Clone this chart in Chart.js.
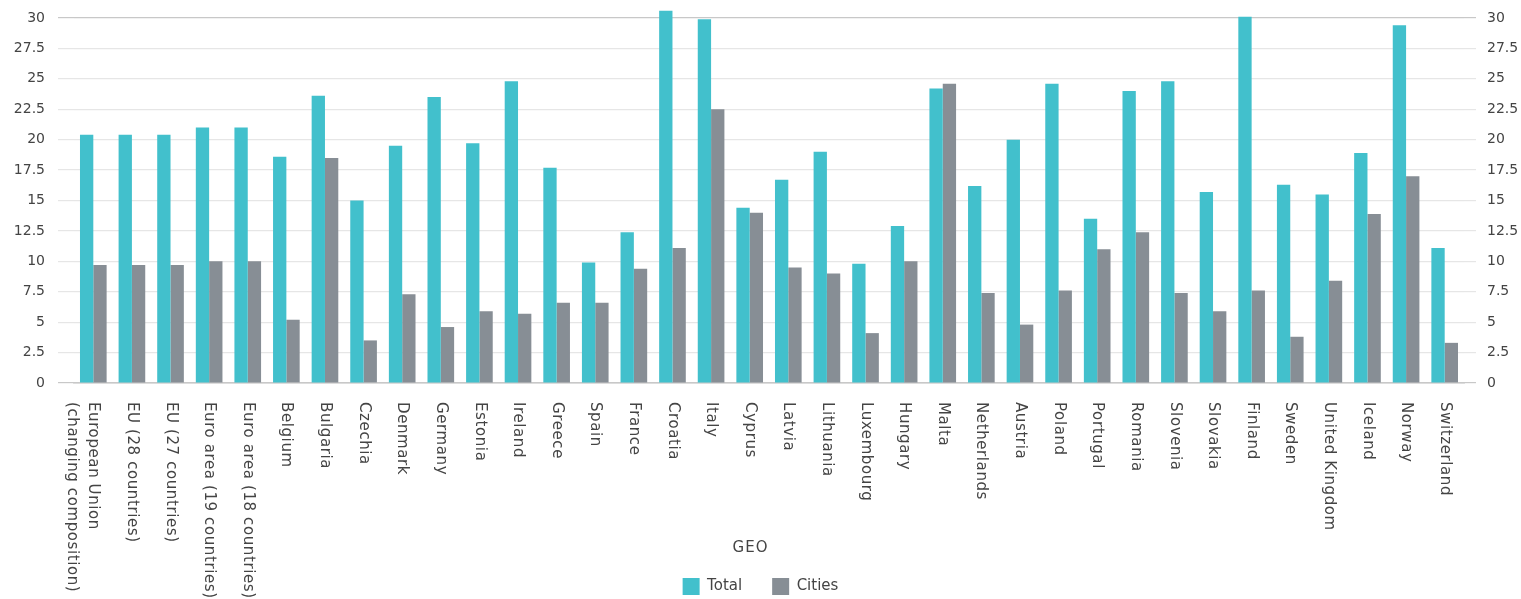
<!DOCTYPE html>
<html>
<head>
<meta charset="utf-8">
<script src="https://cdn.jsdelivr.net/npm/chart.js@4.4.1/dist/chart.umd.min.js"></script>
<style>
    html, body { margin: 0; padding: 0; background: #ffffff; }
    #wrap { width: 1521px; height: 599px; position: relative; }
</style>
</head>
<body>
<div id="wrap"><canvas id="geoChart"></canvas></div>
<script>

    // =========================================
    // DATA
    // =========================================

    var categories = [
        ["European Union", "(changing composition)"],
        "EU (28 countries)",
        "EU (27 countries)",
        "Euro area (19 countries)",
        "Euro area (18 countries)",
        "Belgium",
        "Bulgaria",
        "Czechia",
        "Denmark",
        "Germany",
        "Estonia",
        "Ireland",
        "Greece",
        "Spain",
        "France",
        "Croatia",
        "Italy",
        "Cyprus",
        "Latvia",
        "Lithuania",
        "Luxembourg",
        "Hungary",
        "Malta",
        "Netherlands",
        "Austria",
        "Poland",
        "Portugal",
        "Romania",
        "Slovenia",
        "Slovakia",
        "Finland",
        "Sweden",
        "United Kingdom",
        "Iceland",
        "Norway",
        "Switzerland"
    ];

    var totalValues = [
        20.4, 20.4, 20.4, 21.0, 21.0, 18.6, 23.6, 15.0, 19.5, 23.5,
        19.7, 24.8, 17.7, 9.9, 12.4, 30.6, 29.9, 14.4, 16.7, 19.0,
        9.8, 12.9, 24.2, 16.2, 20.0, 24.6, 13.5, 24.0, 24.8, 15.7,
        30.1, 16.3, 15.5, 18.9, 29.4, 11.1
    ];

    var citiesValues = [
        9.7, 9.7, 9.7, 10.0, 10.0, 5.2, 18.5, 3.5, 7.3, 4.6,
        5.9, 5.7, 6.6, 6.6, 9.4, 11.1, 22.5, 14.0, 9.5, 9.0,
        4.1, 10.0, 24.6, 7.4, 4.8, 7.6, 11.0, 12.4, 7.4, 5.9,
        7.6, 3.8, 8.4, 13.9, 17.0, 3.3
    ];

    var yMin = 0;
    var yMax = 30;
    var yStep = 2.5;

    var axisTitle = "GEO";

    // =========================================
    // STYLE
    // =========================================

    var fontFamily = "'DejaVu Sans', sans-serif";
    var textColor = "#444444";
    var gridColor = "#e6e6e6";
    var baseColor = "#c8c8c8";

    function gridLineColor(ctx) {
        if (ctx.tick && (ctx.tick.value === 0 || ctx.tick.value === 30)) {
            return baseColor;
        }
        return gridColor;
    }

    // fixed axis width, no extra label padding above/below
    function fitValueAxis(width) {
        return function (scale) {
            scale.width = width;
            scale.paddingTop = 0;
            scale.paddingBottom = 0;
        };
    }

    // rotated category labels (read top to bottom) + axis title
    var categoryLabelPlugin = {
        id: "categoryLabels",
        afterDraw: function (chart) {

            var ctx = chart.ctx;
            var xScale = chart.scales.x;
            var top = chart.chartArea.bottom + 19;

            ctx.save();
            ctx.font = "15px " + fontFamily;
            ctx.fillStyle = textColor;
            ctx.letterSpacing = "0.6px";
            ctx.textAlign = "left";
            ctx.textBaseline = "middle";

            categories.forEach(function (label, i) {

                var lines = [].concat(label);
                var x = xScale.getPixelForTick(i);

                lines.forEach(function (line, j) {
                    ctx.save();
                    ctx.translate(x - j * 21, top);
                    ctx.rotate(Math.PI / 2);
                    ctx.fillText(line, 0, 0);
                    ctx.restore();
                });
            });

            ctx.letterSpacing = "1px";
            ctx.textAlign = "center";
            ctx.fillText(axisTitle, chart.width / 2 - 10, 548);
            ctx.restore();
        }
    };

    // =========================================
    // CHART
    // =========================================

    var canvas = document.getElementById("geoChart");

    new Chart(canvas, {

        type: "bar",

        data: {
            labels: categories,
            datasets: [
                {
                    label: "Total",
                    data: totalValues,
                    backgroundColor: "#42c0cc",
                    borderWidth: 0,
                    clip: false
                },
                {
                    label: "Cities",
                    data: citiesValues,
                    backgroundColor: "#878e95",
                    borderWidth: 0,
                    clip: false
                }
            ]
        },

        options: {

            responsive: true,
            maintainAspectRatio: false,
            animation: false,
            devicePixelRatio: 1,

            categoryPercentage: 0.69,
            barPercentage: 1.0,

            layout: {
                padding: { top: 18, left: 0, right: 0, bottom: -6 }
            },

            plugins: {
                legend: {
                    position: "bottom",
                    labels: {
                        boxWidth: 17,
                        boxHeight: 17,
                        padding: 30,
                        color: textColor,
                        font: { family: fontFamily, size: 15 }
                    }
                },
                tooltip: { enabled: false }
            },

            scales: {

                x: {
                    grid: { display: false },
                    border: { display: true, color: baseColor, width: 1.5 },
                    ticks: { display: false },
                    afterFit: function (scale) {
                        scale.height = 165;
                    }
                },

                y: {
                    position: "left",
                    min: yMin,
                    max: yMax,
                    border: { display: false },
                    grid: {
                        color: gridLineColor,
                        tickColor: gridLineColor,
                        tickLength: 16,
                        lineWidth: 1.2
                    },
                    ticks: {
                        stepSize: yStep,
                        padding: 13,
                        color: textColor,
                        font: { family: fontFamily, size: 14 }
                    },
                    afterFit: fitValueAxis(74)
                },

                y2: {
                    position: "right",
                    min: yMin,
                    max: yMax,
                    border: { display: false },
                    grid: {
                        drawOnChartArea: false,
                        color: gridLineColor,
                        tickColor: gridLineColor,
                        tickLength: 12,
                        lineWidth: 1.2
                    },
                    ticks: {
                        stepSize: yStep,
                        padding: 11,
                        color: textColor,
                        font: { family: fontFamily, size: 14 }
                    },
                    afterFit: fitValueAxis(57)
                }
            }
        },

        plugins: [categoryLabelPlugin]
    });

</script>
</body>
</html>
